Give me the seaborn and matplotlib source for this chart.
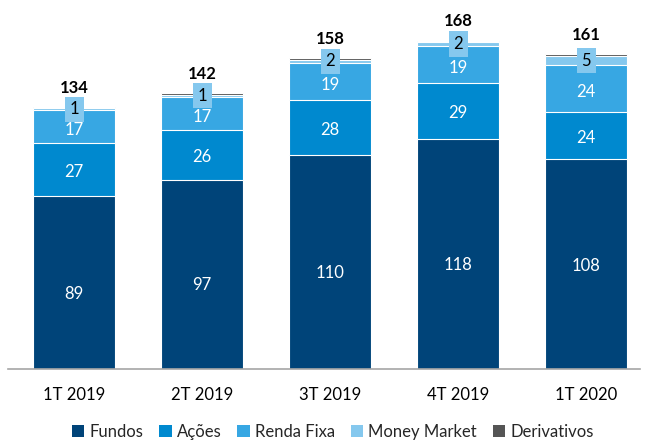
import numpy as np
import matplotlib
matplotlib.use("Agg")
import matplotlib.pyplot as plt
import seaborn as sns
from matplotlib.patches import Patch

quarters = ["1T 2019", "2T 2019", "3T 2019", "4T 2019", "1T 2020"]
fundos = [89, 97, 110, 118, 108]
acoes = [27, 26, 28, 29, 24]
renda_fixa = [17, 17, 19, 19, 24]
money_market = [1, 1, 2, 2, 5]
derivativos = [0.6, 0.6, 0.6, 0.6, 0.6]
totals = [134, 142, 158, 168, 161]

series = ["Fundos", "Ações", "Renda Fixa", "Money Market", "Derivativos"]
colors = ["#004479", "#0089CF", "#37A7E3", "#85C8EE", "#555555"]

# the Fundos labels sit a bit under the middle of their segment in the source
fundos_label_drop = [8, 7.5, 8, 8, 1.5]  # points

sns.set_theme(style="white")
plt.rcParams["font.family"] = ["Lato", "DejaVu Sans"]

fig = plt.figure(figsize=(6.46, 4.4), dpi=100)
ax = fig.add_axes([8 / 646, 71 / 440, 632 / 646, 340.6 / 440])

stack = np.array([fundos, acoes, renda_fixa, money_market, derivativos], dtype=float)
cum = np.cumsum(stack, axis=0)

# draw from the top layer down so lower segments sit on top
for i in range(len(series) - 1, -1, -1):
    sns.barplot(x=quarters, y=cum[i], color=colors[i], saturation=1,
                width=0.64, edgecolor="white", linewidth=0.8, ax=ax)

x = np.arange(len(quarters))
for j in range(len(quarters)):
    ax.annotate(str(fundos[j]), (x[j], fundos[j] / 2), xytext=(0, -fundos_label_drop[j]),
                textcoords="offset points", ha="center", va="center",
                color="white", fontsize=12)
    ax.annotate(str(acoes[j]), (x[j], cum[0][j] + acoes[j] / 2), xytext=(0, -1.5),
                textcoords="offset points", ha="center", va="center",
                color="white", fontsize=12)
    ax.annotate(str(renda_fixa[j]), (x[j], cum[1][j] + renda_fixa[j] / 2), xytext=(0, -2.5),
                textcoords="offset points", ha="center", va="center",
                color="white", fontsize=12)
    ax.text(x[j], cum[2][j] + money_market[j] / 2, str(money_market[j]), ha="center",
            va="center", color="black", fontsize=12,
            bbox=dict(boxstyle="square,pad=0.28", fc=colors[3], ec="none"))
    ax.annotate(str(totals[j]), (x[j], cum[4][j]), xytext=(0, 14), textcoords="offset points",
                ha="center", va="center", fontsize=12, fontweight="bold", color="black")

ax.set_xlim(-0.516, 4.42)
ax.set_ylim(0, 175)
ax.set_yticks([])
ax.set_ylabel("")
for s in ["top", "left", "right"]:
    ax.spines[s].set_visible(False)
ax.spines["bottom"].set_color("#A6A6A6")
ax.spines["bottom"].set_linewidth(1.2)
ax.tick_params(axis="x", length=0, pad=13, labelsize=12, colors="black")

handles = [Patch(facecolor=c, edgecolor="none", label=s) for s, c in zip(series, colors)]
fig.legend(handles=handles, loc="center", bbox_to_anchor=(0.515, 1 - 432 / 440), ncol=5,
           frameon=False, fontsize=12, handlelength=0.75, handleheight=0.75,
           handletextpad=0.3, columnspacing=0.95)

fig.savefig("out.png", dpi=100)
